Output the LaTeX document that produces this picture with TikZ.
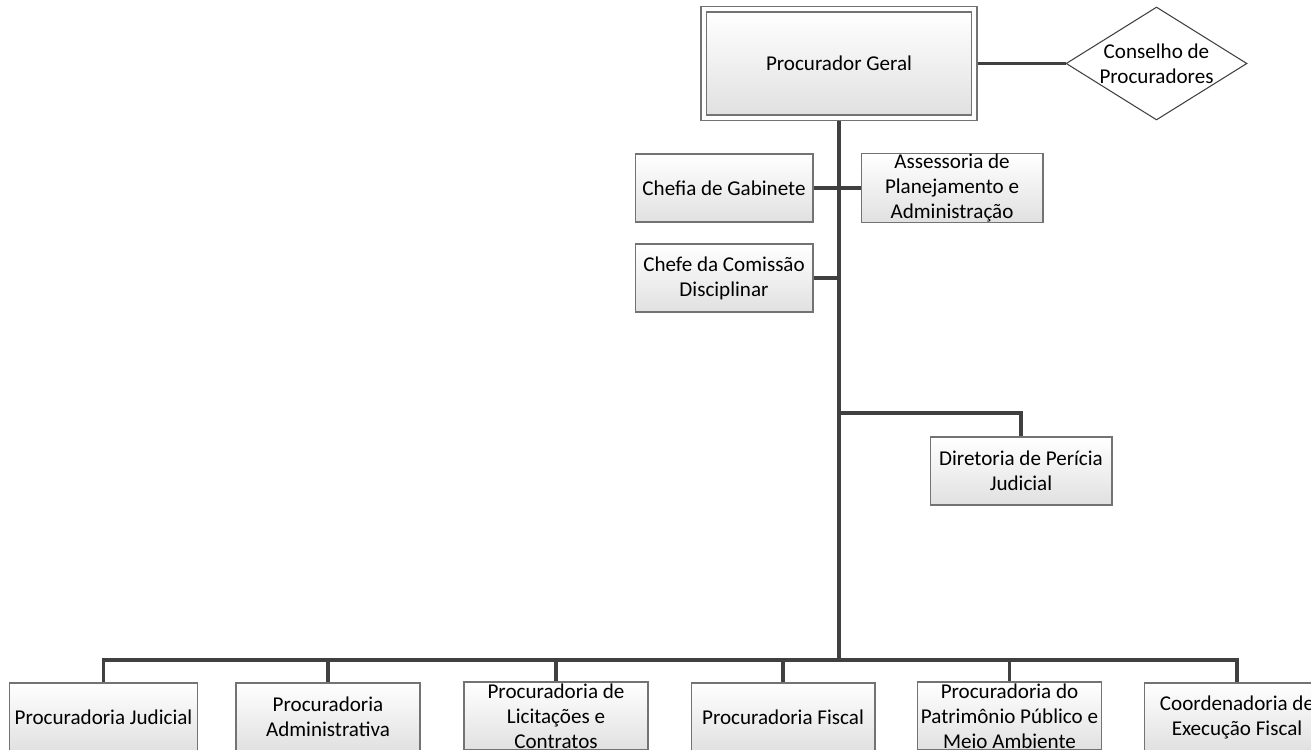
\documentclass[tikz,border=0pt]{standalone}
\usepackage{fontspec}
\setmainfont{Carlito}
\usetikzlibrary{shapes.geometric,fit}
\tikzset{
  unit/.style={draw=black!55, line width=0.6pt, top color=white, bottom color=black!12,
    align=center, inner sep=0pt, font=\fontsize{12}{14.2}\selectfont},
  link/.style={draw=black!75, line width=1.8pt}
}
\begin{document}
\begin{tikzpicture}[x=0.02cm,y=-0.02cm]
\useasboundingbox (0,0) rectangle (1311,750);
\node[unit, minimum width=5.3cm, minimum height=2.06cm] (pg) at (839,63.5) {Procurador Geral};
\node[fit=(pg), inner sep=0.1cm, draw=black!55, line width=0.6pt] (pgframe) {};
\node[unit, shape=diamond, draw=black!75, top color=white, bottom color=white, minimum width=3.62cm, minimum height=2.26cm, shape aspect=1.6] (conselho) at (1156.5,63.5) {Conselho de\\Procuradores};
\node[unit, minimum width=3.56cm, minimum height=1.36cm] (chefia) at (724,188) {Chefia de Gabinete};
\node[unit, minimum width=3.64cm, minimum height=1.36cm] (assessoria) at (952,188) {Assessoria de\\Planejamento e\\Administração};
\node[unit, minimum width=3.56cm, minimum height=1.36cm] (comissao) at (724,278) {Chefe da Comissão\\Disciplinar};
\node[unit, minimum width=3.64cm, minimum height=1.36cm] (pericia) at (1021,471) {Diretoria de Perícia\\Judicial};
\node[unit, minimum width=3.76cm, minimum height=1.36cm] (judicial) at (103.5,717) {Procuradoria Judicial};
\node[unit, minimum width=3.68cm, minimum height=1.36cm] (administrativa) at (328,717) {Procuradoria\\Administrativa};
\node[unit, minimum width=3.68cm, minimum height=1.36cm] (licitacoes) at (556,716) {Procuradoria de\\Licitações e\\Contratos};
\node[unit, minimum width=3.68cm, minimum height=1.36cm] (fiscal) at (783,717) {Procuradoria Fiscal};
\node[unit, minimum width=3.68cm, minimum height=1.36cm] (patrimonio) at (1009.5,716) {Procuradoria do\\Patrimônio Público e\\Meio Ambiente};
\node[unit, minimum width=3.72cm, minimum height=1.36cm] (execucao) at (1237,717) {Coordenadoria de\\Execução Fiscal};
\coordinate (bus) at (839,660);
\coordinate (tap) at (839,413);
% connectors
\draw[link] (pgframe.east) -- (conselho.west);
\draw[link] (pgframe.south) -- (bus);
\draw[link] (chefia.east) -- (assessoria.west);
\draw[link] (comissao.east) -- (comissao.east -| bus);
\draw[link] (tap) -| (pericia.north);
\draw[link] (judicial.north) |- (bus) -| (execucao.north);
\foreach \n in {administrativa,licitacoes,fiscal,patrimonio}
  \draw[link] (bus -| \n.north) -- (\n.north);
\end{tikzpicture}
\end{document}
